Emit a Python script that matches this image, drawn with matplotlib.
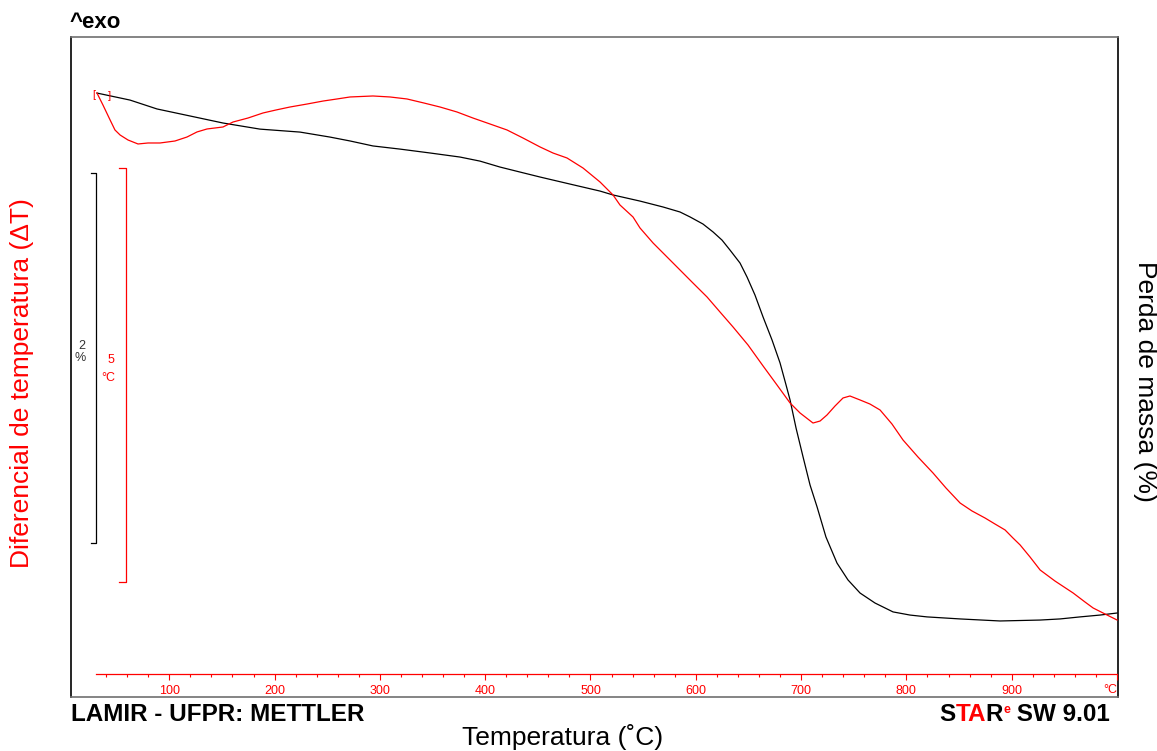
import numpy as np
import matplotlib.pyplot as plt
from matplotlib.ticker import FixedLocator, FixedFormatter

plt.rcParams['font.family'] = ['Liberation Sans', 'DejaVu Sans']

# TG curve: sample mass (%) against furnace temperature (°C)
tg_temp = [31.3, 62.7, 88.3, 119.7, 151.0, 186.1, 224.1, 252.6, 271.6, 293.4,
           319.1, 347.6, 376.1, 395.1, 414.0, 433.0, 452.1, 480.5, 509.1, 521.4,
           547.0, 568.9, 585.0, 594.6, 606.8, 616.4, 624.9, 632.5, 642.0, 648.7,
           656.2, 663.9, 672.4, 680.0, 685.7, 689.5, 695.2, 701.9, 708.5, 715.2,
           723.6, 734.1, 744.5, 756.0, 770.2, 787.3, 803.4, 819.6, 851.0, 888.9,
           926.9, 945.9, 964.9, 983.9, 1000.0]
tg_mass = [100.000, 99.962, 99.914, 99.876, 99.838, 99.805, 99.789, 99.762,
           99.741, 99.714, 99.697, 99.676, 99.654, 99.632, 99.600, 99.573,
           99.546, 99.508, 99.470, 99.449, 99.416, 99.384, 99.357, 99.330,
           99.292, 99.249, 99.205, 99.151, 99.081, 99.005, 98.908, 98.789,
           98.665, 98.541, 98.422, 98.341, 98.189, 98.032, 97.881, 97.762,
           97.600, 97.459, 97.368, 97.297, 97.243, 97.195, 97.178, 97.168,
           97.157, 97.146, 97.151, 97.157, 97.168, 97.178, 97.189]

# DTA curve: temperature difference (°C) against furnace temperature (°C)
dta_temp = [31.3, 37.0, 43.8, 48.4, 53.3, 60.8, 70.3, 79.8, 91.2, 105.4,
            116.8, 126.3, 135.8, 143.4, 151.0, 160.5, 174.7, 189.0, 201.3, 214.6,
            230.8, 246.0, 259.3, 271.6, 293.4, 309.6, 325.7, 341.9, 357.1, 373.2,
            388.4, 404.6, 420.7, 435.9, 452.1, 464.4, 477.7, 492.9, 509.1, 515.7,
            521.4, 528.0, 540.4, 547.0, 559.4, 570.8, 585.0, 597.3, 610.7, 623.0,
            635.4, 649.6, 663.9, 677.1, 689.5, 699.0, 711.3, 718.0, 724.6, 732.2,
            739.8, 746.4, 756.0, 765.4, 775.0, 786.3, 796.8, 811.0, 825.3, 837.6,
            851.0, 862.3, 874.7, 884.1, 893.7, 901.2, 908.0, 917.4, 927.0, 941.1,
            958.3, 969.6, 977.3, 986.8, 1000.0]
dta_delta = [0.000, -0.145, -0.326, -0.446, -0.507, -0.567, -0.615, -0.603,
             -0.603, -0.579, -0.531, -0.470, -0.434, -0.422, -0.410, -0.350,
             -0.302, -0.241, -0.205, -0.169, -0.133, -0.097, -0.072, -0.048,
             -0.036, -0.048, -0.072, -0.121, -0.169, -0.229, -0.302, -0.374,
             -0.446, -0.543, -0.651, -0.724, -0.784, -0.905, -1.074, -1.158,
             -1.230, -1.351, -1.496, -1.628, -1.809, -1.954, -2.135, -2.292,
             -2.461, -2.642, -2.823, -3.040, -3.293, -3.522, -3.739, -3.860,
             -3.981, -3.957, -3.884, -3.776, -3.679, -3.655, -3.703, -3.752,
             -3.824, -3.993, -4.186, -4.391, -4.584, -4.765, -4.946, -5.042,
             -5.127, -5.199, -5.271, -5.368, -5.452, -5.597, -5.754, -5.887,
             -6.031, -6.140, -6.212, -6.273, -6.357]

# temperature axis
temp_range = [30, 1000]
temp_major = [100, 200, 300, 400, 500, 600, 700, 800, 900, 1000]
temp_major_labels = ['100', '200', '300', '400', '500', '600', '700', '800', '900', '']
temp_minor = list(range(40, 1001, 20))

# scale bars: 2 % for the mass, 5 °C for the DTA signal
mass_bar = [97.57, 99.57]
dta_bar = [-5.90, -0.90]

red = '#ff0000'
W, H = 1157, 751
fig = plt.figure(figsize=(W / 100, H / 100), dpi=100)
ax = fig.add_axes([71 / W, 54 / H, 1047 / W, 660 / H])
ax.set_xlim(6.65, 1000.95)
ax.set_ylim(96.735, 100.303)
for side in ['left', 'right']:
    ax.spines[side].set_color('black')
    ax.spines[side].set_linewidth(1.2)
for side in ['top', 'bottom']:
    ax.spines[side].set_color('#707070')
    ax.spines[side].set_linewidth(1.2)

ax.plot(tg_temp, tg_mass, color='black', lw=0.9)

# mass scale bar
ax.plot([25.6, 30.4, 30.4, 25.6], [mass_bar[1], mass_bar[1], mass_bar[0], mass_bar[0]],
        color='black', lw=0.9)
mid = (mass_bar[0] + mass_bar[1]) / 2
ax.text(17.1, mid + 0.065, '2', fontsize=9, ha='center', va='center', color='#333333')
ax.text(15.2, mid - 0.005, '%', fontsize=9, ha='center', va='center', color='#333333')

# DTA on a twin axis
ax2 = ax.twinx()
ax2.set_ylim(-7.286, 0.6755)
for side in ['left', 'right', 'top']:
    ax2.spines[side].set_visible(False)
ax2.plot(dta_temp, dta_delta, color=red, lw=0.9)

ax2.plot([52.5, 58.6, 58.6, 52.5], [dta_bar[1], dta_bar[1], dta_bar[0], dta_bar[0]],
         color=red, lw=0.9)
mid = (dta_bar[0] + dta_bar[1]) / 2
ax2.text(44.6, mid + 0.18, '5', fontsize=9, ha='center', va='center', color=red)
ax2.text(41.8, mid - 0.04, '°C', fontsize=9, ha='center', va='center', color=red)
ax2.text(28.5, -0.03, '[', fontsize=8, ha='center', va='center', color=red)
ax2.text(43.5, -0.04, ']', fontsize=8, ha='center', va='center', color=red)

# red temperature axis inside the frame
ax2.xaxis.set_visible(True)
sp = ax2.spines['bottom']
sp.set_position(('axes', 23 / 660))
sp.set_bounds(*temp_range)
sp.set_color(red)
sp.set_linewidth(0.9)
ax2.xaxis.set_major_locator(FixedLocator(temp_major))
ax2.xaxis.set_major_formatter(FixedFormatter(temp_major_labels))
ax2.xaxis.set_minor_locator(FixedLocator(temp_minor))
ax2.tick_params(axis='x', which='both', direction='out', color=red, labelcolor=red,
                width=0.8, bottom=True, labelbottom=True)
ax2.tick_params(axis='x', which='major', length=4, pad=4, labelsize=9)
ax2.tick_params(axis='x', which='minor', length=2.5)
ax2.text(1000, 7 / 660, '°C', transform=ax2.get_xaxis_transform(), fontsize=9,
         color=red, ha='right', va='center')

# no ticks on the outer frame
ax.tick_params(which='both', left=False, labelleft=False, right=False,
               bottom=False, labelbottom=False)
ax2.tick_params(axis='y', which='both', left=False, right=False,
                labelleft=False, labelright=False)

# annotations around the plot
fig.text(70 / W, 1 - 22 / H, '^exo', fontsize=16, fontweight='bold', va='center')
fig.text(71 / W, 1 - 721 / H, 'LAMIR - UFPR: METTLER', fontsize=17.5,
         fontweight='bold', va='baseline')

s = fig.text(939 / W, 1 - 721 / H, 'S', fontsize=17.5, fontweight='bold', va='baseline')
ta = ax.annotate('TA', xy=(1, 0), xycoords=s, va='bottom', fontsize=17.5,
                 fontweight='bold', color=red, annotation_clip=False)
r = ax.annotate('R', xy=(1, 0), xycoords=ta, va='bottom', fontsize=17.5,
                fontweight='bold', annotation_clip=False)
e = ax.annotate('e', xy=(1, 0.45), xycoords=r, va='bottom', fontsize=9,
                fontweight='bold', color=red, annotation_clip=False)
ax.annotate(' SW 9.01', xy=(1, 0), xycoords=(e, r), va='bottom', fontsize=17.5,
            fontweight='bold', annotation_clip=False)

fig.text(563 / W, 1 - 737 / H, 'Temperatura (˚C)', fontsize=19, ha='center', va='center')
fig.text(22 / W, 1 - 383 / H, 'Diferencial de temperatura (ΔT)', fontsize=19,
         rotation=90, ha='center', va='center', color=red)
fig.text(1145 / W, 1 - 381 / H, 'Perda de massa (%)', fontsize=19,
         rotation=270, ha='center', va='center')

fig.savefig('out.png', dpi=100)
